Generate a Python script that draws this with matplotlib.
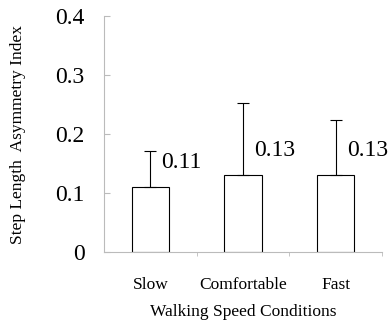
import matplotlib.pyplot as plt

conditions = ['Slow', 'Comfortable', 'Fast']
means = [0.11, 0.13, 0.13]
sds = [0.061, 0.122, 0.093]
labels = ['0.11', '0.13', '0.13']

plt.rcParams['font.family'] = ['Liberation Serif', 'DejaVu Serif']

fig = plt.figure(figsize=(3.91, 3.23), dpi=100)
ax = fig.add_axes([0.266, 0.22, 0.711, 0.73])

x = range(len(conditions))
ax.bar(x, means, width=0.4, color='white', edgecolor='black', linewidth=0.8,
       yerr=[[0] * len(sds), sds], error_kw=dict(ecolor='black', elinewidth=0.8,
                                                capsize=4, capthick=0.8))

for i in x:
    ax.text(i + 0.12, means[i] + 0.042, labels[i], ha='left', va='center', fontsize=17)

ax.set_xlim(-0.5, 2.5)
ax.set_ylim(0, 0.4)
ax.set_yticks([0, 0.1, 0.2, 0.3, 0.4])
ax.set_yticklabels(['0', '0.1', '0.2', '0.3', '0.4'], fontsize=17)
ax.tick_params(axis='y', direction='in', length=4, color='#bbbbbb', pad=14)

ax.set_xticks([0, 1, 2])
ax.set_xticklabels(conditions, fontsize=12.5)
ax.tick_params(axis='x', length=0, pad=18)
ax.set_xticks([0.5, 1.5, 2.5], minor=True)
ax.tick_params(axis='x', which='minor', direction='out', length=3, color='#bbbbbb')

for s in ['top', 'right']:
    ax.spines[s].set_visible(False)
for s in ['left', 'bottom']:
    ax.spines[s].set_color('#bbbbbb')
    ax.spines[s].set_linewidth(0.8)

ax.set_xlabel('Walking Speed Conditions', fontsize=12.5, labelpad=8)
ax.set_ylabel('Step Length  Asymmetry Index', fontsize=12.5, labelpad=21)

plt.savefig('out.png')
